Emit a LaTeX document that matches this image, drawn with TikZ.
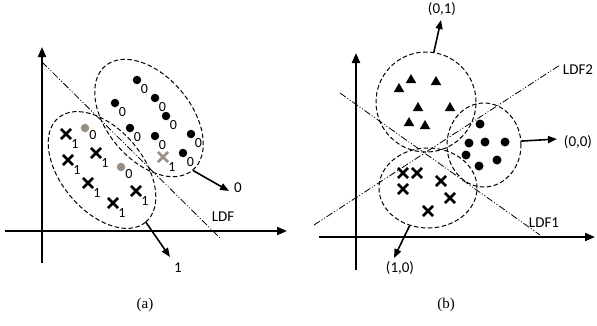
\documentclass[tikz,border=0pt]{standalone}
\usepackage{fontspec}
\setmainfont{Liberation Serif}
\setsansfont{Carlito}
\usetikzlibrary{positioning, arrows.meta, shapes.geometric, shapes.misc}
\definecolor{mkgray}{RGB}{152,142,132}

\begin{document}
\begin{tikzpicture}[
    x=1pt, y=-1pt,
    axis/.style={line width=2pt, -{Triangle[length=10pt,width=8pt]}},
    ldf/.style={line width=0.8pt, dash pattern=on 7pt off 2pt on 1pt off 2pt on 1pt off 2pt},
    grp/.style={draw, ellipse, line width=1pt, inner sep=0pt,
               dash pattern=on 4.5pt off 2.5pt},
    ar/.style={line width=1.6pt, -{Triangle[length=9pt,width=7pt]}},
    lbl/.style={font=\sffamily\fontsize{15}{17}\selectfont, inner sep=0pt},
    sub/.style={font=\sffamily\fontsize{14}{16}\selectfont, inner sep=0pt},
    dot/.style={circle, fill=black, inner sep=0pt, minimum size=8.5pt},
    gdot/.style={dot, fill=mkgray},
    tri/.style={regular polygon, regular polygon sides=3, fill=black,
               inner sep=0pt, minimum size=12pt},
    crs/.style={cross out, draw=black, line width=2.6pt, inner sep=0pt,
               minimum size=7.5pt},
    gcrs/.style={crs, draw=mkgray},
    capt/.style={font=\fontsize{15}{17}\selectfont, inner sep=0pt},
  ]
  \useasboundingbox (0,0) rectangle (597,325);

  % (a) one discriminant
  \draw[axis] (42,263) -- (42,47);
  \draw[axis] (5,231) -- (287,231);
  \draw[ldf] (42,62) -- (220,238);
  \node[lbl] (ldfA) at (223,217) {LDF};

  \node[grp, minimum width=136pt, minimum height=84pt, rotate=-50] (grpA0) at (149,118) {};
  \node[grp, minimum width=136pt, minimum height=82pt, rotate=-50] (grpA1) at (102,170) {};

  \node[dot] (d1) at (137,80) {};
  \node[dot] (d2) at (155,98) {};
  \node[dot] (d3) at (115,103) {};
  \node[dot] (d4) at (166,116) {};
  \node[dot] (d5) at (130,128) {};
  \node[dot] (d6) at (155,136) {};
  \node[dot] (d7) at (191,134) {};
  \node[dot] (d8) at (183,153) {};
  \node[gdot] (g1) at (85,128) {};
  \node[gdot] (g2) at (121,167) {};
  \node[sub, below right=1pt and 0.5pt of d1] (sd1) {0};
  \node[sub, below right=1pt and 0.5pt of d2] (sd2) {0};
  \node[sub, below right=1pt and 0.5pt of d3] (sd3) {0};
  \node[sub, below right=1pt and 0.5pt of d4] (sd4) {0};
  \node[sub, below right=1pt and 0.5pt of d5] (sd5) {0};
  \node[sub, below right=1pt and 0.5pt of d6] (sd6) {0};
  \node[sub, below right=1pt and 0.5pt of d7] (sd7) {0};
  \node[sub, below right=1pt and 0.5pt of d8] (sd8) {0};
  \node[sub, below right=-1pt and 1pt of g1] (sg1) {0};
  \node[sub, below right=-1pt and 1pt of g2] (sg2) {0};

  \node[crs] (x1) at (66,134) {};
  \node[crs] (x2) at (96,153) {};
  \node[crs] (x3) at (68,160) {};
  \node[crs] (x4) at (88,183) {};
  \node[crs] (x5) at (136,191) {};
  \node[crs] (x6) at (113,203) {};
  \node[gcrs] (gx) at (163,157) {};
  \node[sub, below right=0.5pt and 0pt of x1] (sx1) {1};
  \node[sub, below right=0.5pt and 0pt of x2] (sx2) {1};
  \node[sub, below right=0.5pt and 0pt of x3] (sx3) {1};
  \node[sub, below right=0.5pt and 0pt of x4] (sx4) {1};
  \node[sub, below right=0.5pt and 0pt of x5] (sx5) {1};
  \node[sub, below right=0.5pt and 0pt of x6] (sx6) {1};
  \node[sub, below right=0.5pt and 0pt of gx] (sgx) {1};

  \coordinate (tipA0) at (229,191);
  \coordinate (tipA1) at (170,257);
  \node[lbl] (labA0) at (238,188) {0};
  \node[lbl] (labA1) at (178,268) {1};
  \draw[ar] (grpA0.east) -- (tipA0);
  \draw[ar] (grpA1.east) -- (tipA1);

  \node[capt] (capA) at (145,305) {(a)};

  % (b) two discriminants
  \draw[axis] (356,270) -- (356,53);
  \draw[axis] (319,237) -- (595,237);
  \draw[ldf] (314,225) -- (560,65);
  \draw[ldf] (340,93) -- (540,235);
  \node[lbl] (ldf2) at (578,70) {LDF2};
  \node[lbl] (ldf1) at (544,223) {LDF1};

  \node[grp, minimum width=100pt, minimum height=100pt] (cTri) at (426,102) {};
  \node[grp, minimum width=74pt, minimum height=84pt] (cDot) at (484,145) {};
  \node[grp, minimum width=98pt, minimum height=80pt] (cX) at (428,188) {};

  \node[tri] (t1) at (411,80) {};
  \node[tri] (t2) at (436,82) {};
  \node[tri] (t3) at (399,89) {};
  \node[tri] (t4) at (418,108) {};
  \node[tri] (t5) at (450,108) {};
  \node[tri] (t6) at (409,123) {};
  \node[tri] (t7) at (425,126) {};

  \node[dot, minimum size=9pt] (p1) at (480,124) {};
  \node[dot, minimum size=9pt] (p2) at (469,143) {};
  \node[dot, minimum size=9pt] (p3) at (485,142) {};
  \node[dot, minimum size=9pt] (p4) at (505,142) {};
  \node[dot, minimum size=9pt] (p5) at (466,155) {};
  \node[dot, minimum size=9pt] (p6) at (479,166) {};
  \node[dot, minimum size=9pt] (p7) at (497,160) {};

  \node[crs] (q1) at (403,173) {};
  \node[crs] (q2) at (417,173) {};
  \node[crs] (q3) at (441,181) {};
  \node[crs] (q4) at (403,189) {};
  \node[crs] (q5) at (450,198) {};
  \node[crs] (q6) at (428,211) {};

  \coordinate (tip01) at (441,20);
  \coordinate (tip00) at (557,139);
  \coordinate (tip10) at (394,258);
  \node[lbl] (lab01) at (442,9) {(0,1)};
  \node[lbl] (lab00) at (578,142) {(0,0)};
  \node[lbl] (lab10) at (400,268) {(1,0)};
  \draw[ar] (cTri.81) -- (tip01);
  \draw[ar] (cDot.6) -- (tip00);
  \draw[ar] (cX.-116) -- (tip10);

  \node[capt] (capB) at (446,305) {(b)};
\end{tikzpicture}
\end{document}
